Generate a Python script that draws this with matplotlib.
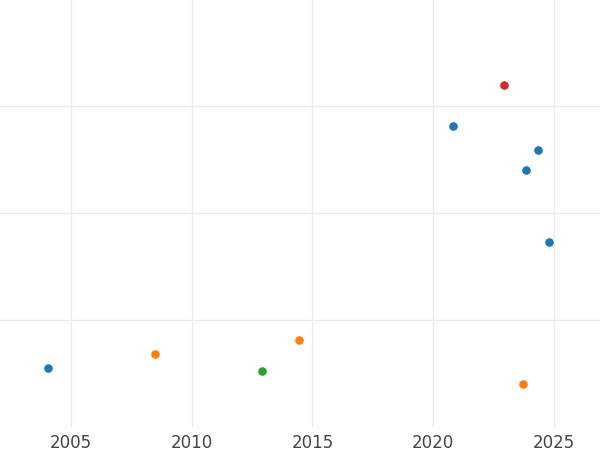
import matplotlib
matplotlib.use("Agg")
import matplotlib.pyplot as plt

# Data (x = year, y = unlabelled value)
blue_x = [2004.05, 2020.84, 2024.35, 2023.84, 2024.82]
blue_y = [0.549, 2.816, 2.592, 2.405, 1.729]
orange_x = [2008.47, 2014.43, 2023.74]
orange_y = [0.682, 0.810, 0.399]
green_x = [2012.91]
green_y = [0.523]
red_x = [2022.93]
red_y = [3.193]
x_ticks = [2005, 2010, 2015, 2020, 2025]
y_grid = [1, 2, 3]

fig = plt.figure(figsize=(6, 4.5), dpi=100)
ax = fig.add_axes([0, 23 / 450, 1, 427 / 450])

series = [(blue_x, blue_y, "#1f77b4"), (orange_x, orange_y, "#ff7f0e"),
          (green_x, green_y, "#2ca02c"), (red_x, red_y, "#d62728")]
for xs, ys, c in series:
    ax.scatter(xs, ys, s=45, color=c, edgecolors="white", linewidths=0.5, zorder=3)

ax.set_xlim(2002.044, 2026.92)
ax.set_ylim(0, 3.99)
ax.set_xticks(x_ticks)
ax.set_xticklabels([str(t) for t in x_ticks])
ax.set_yticks(y_grid)
ax.set_yticklabels([])
ax.grid(True, color="#ebebeb", linewidth=1.0, zorder=0)
ax.set_axisbelow(True)
ax.tick_params(axis="both", length=0, labelsize=12, labelcolor="#444444", pad=5)
for s in ax.spines.values():
    s.set_visible(False)

fig.savefig("out.png", dpi=100)
